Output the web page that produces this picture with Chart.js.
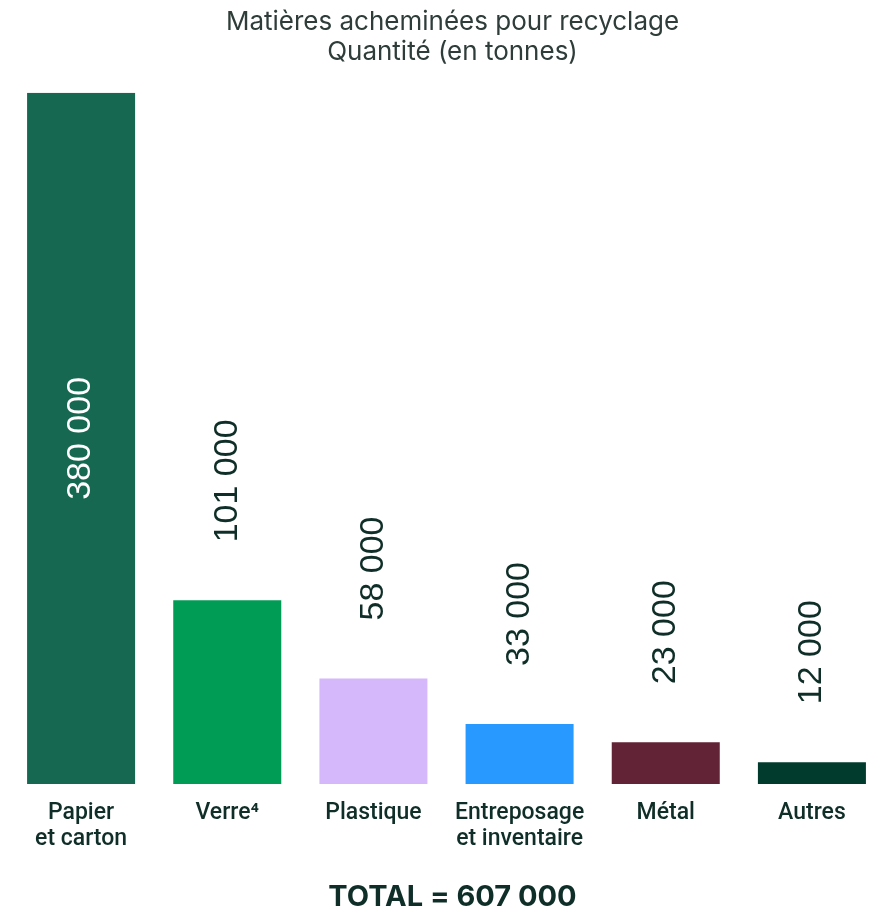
<!DOCTYPE html>
<html lang="fr">
<head>
<meta charset="utf-8">
<title>Matières acheminées pour recyclage</title>
<script src="https://cdn.jsdelivr.net/npm/chart.js@4/dist/chart.umd.min.js"></script>
<style>
    html, body { margin: 0; padding: 0; background: #ffffff; overflow: hidden; }
    .chart-box { position: relative; width: 905px; height: 913px; }
</style>
</head>
<body>
<div class="chart-box">
    <canvas id="recyclingChart"></canvas>
</div>
<script>
// Données du graphique
const categories = [['Papier', 'et carton'], 'Verre⁴', 'Plastique', ['Entreposage', 'et inventaire'], 'Métal', 'Autres'];
const tonnes = [380000, 101000, 58000, 33000, 23000, 12000];
const valueLabels = ['380 000', '101 000', '58 000', '33 000', '23 000', '12 000'];
const totalLabel = 'TOTAL = 607 000';
const titleLines = ['Matières acheminées pour recyclage', 'Quantité (en tonnes)'];

const barColors = ['#176851', '#009c55', '#d5b8fb', '#2899ff', '#632336', '#003b2d'];
const textColor = '#0f2e27';

// Étiquettes de valeur verticales
const valueLabelPlugin = {
    id: 'valueLabels',
    afterDatasetsDraw(chart) {
        const ctx = chart.ctx;
        const bars = chart.getDatasetMeta(0).data;
        ctx.save();
        ctx.font = '34px "Liberation Sans", Arial, sans-serif';
        ctx.textBaseline = 'middle';
        bars.forEach((bar, i) => {
            ctx.save();
            if (i === 0) {
                // dans la barre, centré
                ctx.translate(bar.x, (bar.y + bar.base) / 2);
                ctx.rotate(-Math.PI / 2);
                ctx.textAlign = 'center';
                ctx.fillStyle = '#ffffff';
            } else {
                ctx.translate(bar.x, bar.y - 58);
                ctx.rotate(-Math.PI / 2);
                ctx.textAlign = 'left';
                ctx.fillStyle = textColor;
            }
            ctx.fillText(valueLabels[i], 0, 0);
            ctx.restore();
        });
        ctx.restore();
    }
};

// axes invisibles qui réservent une marge à gauche et à droite
const hiddenSide = (w) => ({
    display: true,
    ticks: { display: false },
    grid: { display: false, drawTicks: false },
    border: { display: false },
    afterFit(scale) { scale.width = w; }
});

const ctx = document.getElementById('recyclingChart').getContext('2d');
new Chart(ctx, {
    type: 'bar',
    data: {
        labels: categories,
        datasets: [{
            data: tonnes,
            backgroundColor: barColors,
            borderWidth: 0,
            barPercentage: 0.739,
            categoryPercentage: 1
        }]
    },
    options: {
        responsive: true,
        maintainAspectRatio: false,
        animation: false,
        layout: {
            padding: 0
        },
        plugins: {
            legend: { display: false },
            tooltip: { enabled: false },
            title: {
                display: true,
                text: titleLines,
                color: '#2f3d3a',
                font: { family: 'Inter, "Noto Sans", sans-serif', size: 26, weight: 'normal', lineHeight: 1.15 },
                padding: { top: 7, bottom: 26 }
            },
            subtitle: {
                display: true,
                position: 'bottom',
                text: totalLabel,
                color: textColor,
                font: { family: 'Inter, Roboto, sans-serif', size: 29, weight: 'bold', lineHeight: 1 },
                padding: { top: 15, bottom: 1 }
            }
        },
        scales: {
            x: {
                grid: { display: false, drawTicks: false },
                border: { display: false },
                ticks: {
                    color: textColor,
                    padding: 16,
                    maxRotation: 0,
                    autoSkip: false,
                    font: { family: 'Roboto, sans-serif', size: 23, weight: '500', lineHeight: 1.13 }
                }
            },
            y: Object.assign(hiddenSide(8), {
                position: 'left',
                min: 0,
                max: 380000
            }),
            yRight: Object.assign(hiddenSide(20), {
                type: 'linear',
                position: 'right',
                min: 0,
                max: 380000
            })
        }
    },
    plugins: [valueLabelPlugin]
});
</script>
</body>
</html>
